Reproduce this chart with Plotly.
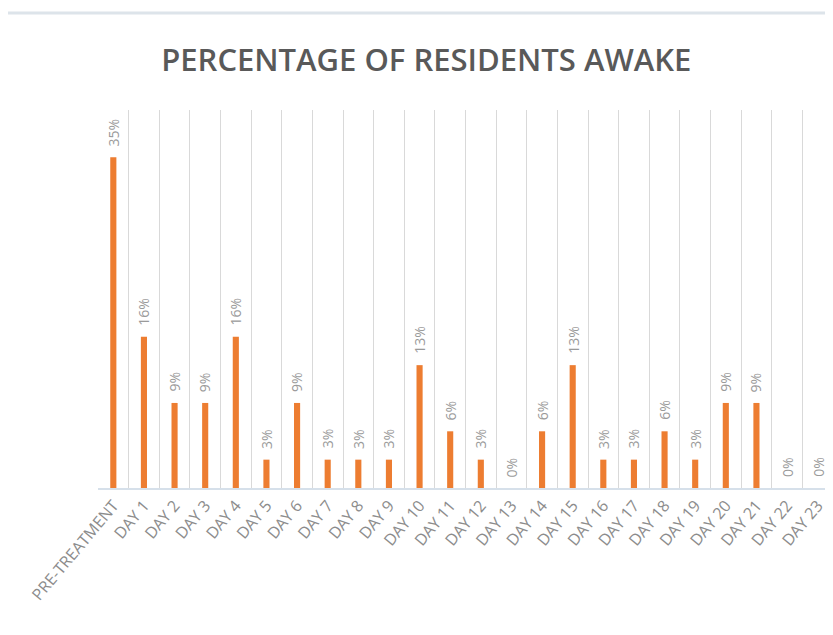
import plotly.graph_objects as go

categories = ["PRE-TREATMENT"] + [f"DAY {i}" for i in range(1, 24)]
values = [35, 16, 9, 9, 16, 3, 9, 3, 3, 3, 13, 6, 3, 0, 6, 13, 3, 3, 6, 3, 9, 9, 0, 0]
labels = [f"{v}%" for v in values]

fig = go.Figure()
fig.add_trace(go.Bar(
    x=categories, y=values,
    marker=dict(color="#ED7D31", line=dict(width=0)),
))

for c, v, t in zip(categories, values, labels):
    fig.add_annotation(x=c, y=v, text=t, textangle=-90, showarrow=False,
                       yanchor="bottom", xanchor="center", yshift=9,
                       font=dict(family="Open Sans", size=14, color="#9a9a9a"))

fig.add_shape(type="line", xref="paper", yref="paper", x0=-0.3, x1=1.1,
              y0=1.2566, y1=1.2566, line=dict(color="#dde4ea", width=3))

fig.update_layout(
    width=825, height=627,
    margin=dict(l=90, r=0, t=102, b=147),
    paper_bgcolor="white", plot_bgcolor="white",
    bargap=0.8,
    showlegend=False,
    title=dict(text="PERCENTAGE OF RESIDENTS AWAKE", x=0.507, xanchor="center",
               y=0.917, yanchor="middle",
               font=dict(family="Open Sans", size=31, color="#595959", weight=600)),
    xaxis=dict(type="category", tickson="boundaries", showgrid=True,
               gridcolor="#d9d9d9", gridwidth=1, tickangle=-50, automargin=False,
               tickfont=dict(family="Open Sans", size=16, color="#8c8c8c"),
               showline=True, linecolor="#d6e0ea", linewidth=2, ticks=""),
    yaxis=dict(range=[0, 40], showgrid=False, showticklabels=False,
               zeroline=False, showline=False, automargin=False),
)
fig.write_html("out.html")
